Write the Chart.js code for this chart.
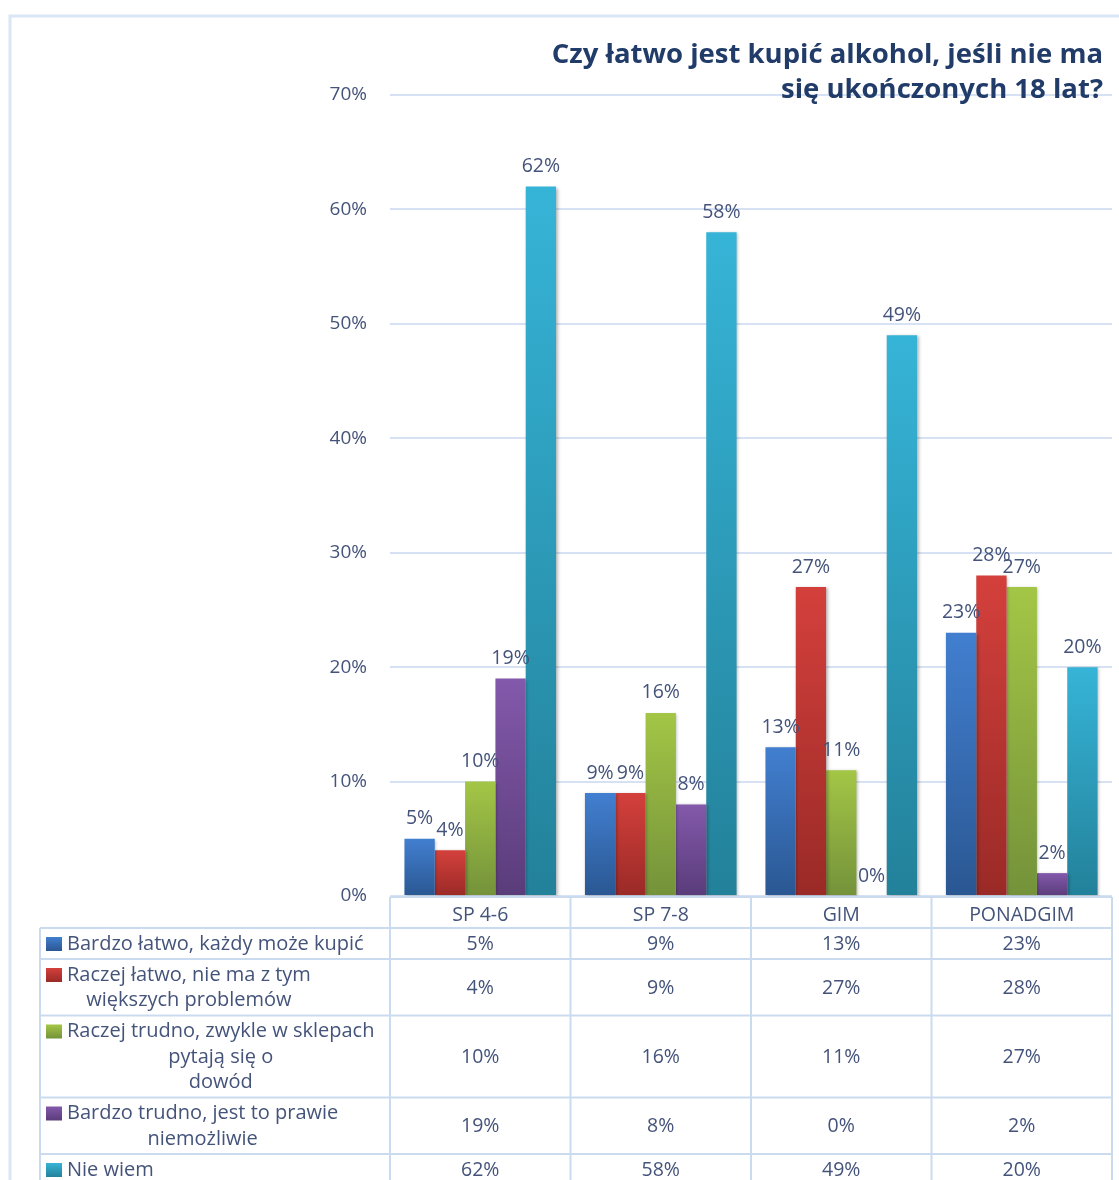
<!DOCTYPE html>
<html>
<head>
<meta charset="utf-8">
<script src="https://cdn.jsdelivr.net/npm/chart.js@4.4.0/dist/chart.umd.min.js"></script>
<style>
    html, body { margin: 0; padding: 0; background: #fff; }
    #wrap { width: 1119px; height: 1180px; }
</style>
</head>
<body>
<div id="wrap"><canvas id="chartBars" width="1119" height="1180"></canvas></div>
<script>
'use strict'

var categories = ['SP 4-6', 'SP 7-8', 'GIM', 'PONADGIM'];
var seriesNames = [
    'Bardzo łatwo, każdy może kupić',
    'Raczej łatwo, nie ma z tym większych problemów',
    'Raczej trudno, zwykle w sklepach pytają się o dowód',
    'Bardzo trudno, jest to prawie niemożliwie',
    'Nie wiem'
];
// how the legend text wraps inside the table
var seriesLines = [
    ['Bardzo łatwo, każdy może kupić'],
    ['Raczej łatwo, nie ma z tym', 'większych problemów'],
    ['Raczej trudno, zwykle w sklepach', 'pytają się o', 'dowód'],
    ['Bardzo trudno, jest to prawie', 'niemożliwie'],
    ['Nie wiem']
];
var bardzoLatwo = [5, 9, 13, 23];
var raczejLatwo = [4, 9, 27, 28];
var raczejTrudno = [10, 16, 11, 27];
var bardzoTrudno = [19, 8, 0, 2];
var nieWiem = [62, 58, 49, 20];
var yMin = 0, yMax = 70, yStep = 10;
var titleLines = ['Czy łatwo jest kupić alkohol, jeśli nie ma', 'się ukończonych 18 lat?'];

var seriesValues = [bardzoLatwo, raczejLatwo, raczejTrudno, bardzoTrudno, nieWiem];
var colorTop = ['#427fd0', '#d4403c', '#a3c646', '#8359ab', '#36b4d7'];
var colorBottom = ['#2a5792', '#9a2a27', '#74923a', '#5a3c7a', '#23819a'];

var FONT = '"Open Sans", "DejaVu Sans", sans-serif';
var LINE = '#cbdbef';
var TEXT = '#44537a';

function barGradient(i) {
    return function(context) {
        var chart = context.chart;
        var y = chart.scales.y;
        if (!y || context.raw === undefined) return colorTop[i];
        var top = y.getPixelForValue(context.raw);
        var base = y.getPixelForValue(0);
        if (!isFinite(top) || !isFinite(base)) return colorTop[i];
        if (base - top < 1) top = base - 1;
        var g = chart.ctx.createLinearGradient(0, top, 0, base);
        g.addColorStop(0, colorTop[i]);
        g.addColorStop(1, colorBottom[i]);
        return g;
    };
}

var datasets = seriesValues.map(function(vals, i) {
    return {
        label: seriesNames[i],
        data: vals,
        backgroundColor: barGradient(i),
        borderWidth: 0,
        barPercentage: 1,
        categoryPercentage: 0.84
    };
});

function rowHeight(lines) {
    return 5.5 + 25.5 * lines.length;
}

// frame, title, value labels and the data table under the chart
var decorPlugin = {
    id: 'decor',
    beforeDraw: function(chart) {
        var ctx = chart.ctx;
        ctx.save();
        ctx.strokeStyle = '#dbe6f5';
        ctx.lineWidth = 3;
        ctx.beginPath();
        ctx.moveTo(10, 1180);
        ctx.lineTo(10, 16);
        ctx.lineTo(1119, 16);
        ctx.stroke();
        ctx.restore();
    },
    beforeDatasetsDraw: function(chart) {
        var ctx = chart.ctx;
        ctx.save();
        ctx.shadowColor = 'rgba(0,0,0,0.28)';
        ctx.shadowBlur = 3;
        ctx.shadowOffsetX = 1.5;
        ctx.shadowOffsetY = 1;
    },
    afterDatasetsDraw: function(chart) {
        var ctx = chart.ctx;
        ctx.restore();
        ctx.save();
        ctx.font = '19.5px ' + FONT;
        ctx.fillStyle = TEXT;
        ctx.textAlign = 'center';
        ctx.textBaseline = 'middle';
        chart.data.datasets.forEach(function(ds, i) {
            var meta = chart.getDatasetMeta(i);
            meta.data.forEach(function(bar, j) {
                ctx.fillText(ds.data[j] + '%', bar.x, bar.y - 20);
            });
        });
        ctx.restore();
    },
    afterDraw: function(chart) {
        var ctx = chart.ctx;
        var area = chart.chartArea;
        var x = chart.scales.x;
        ctx.save();

        // title
        ctx.font = 'bold 27.5px ' + FONT;
        ctx.fillStyle = '#213c69';
        ctx.textAlign = 'right';
        ctx.textBaseline = 'middle';
        ctx.fillText(titleLines[0], 1103, 55);
        ctx.fillText(titleLines[1], 1103, 90);

        // table
        var colW = (area.right - area.left) / categories.length;
        var tableLeft = 40;
        var headTop = area.bottom + 1;
        var rowsTop = 928;
        var rowTops = [];
        var yy = rowsTop;
        seriesLines.forEach(function(lines) {
            rowTops.push(yy);
            yy += rowHeight(lines);
        });

        ctx.strokeStyle = LINE;
        ctx.lineWidth = 2;
        ctx.beginPath();
        ctx.moveTo(area.left, headTop);
        ctx.lineTo(area.right, headTop);
        rowTops.forEach(function(t) {
            ctx.moveTo(tableLeft, t);
            ctx.lineTo(area.right, t);
        });
        ctx.moveTo(tableLeft, rowsTop);
        ctx.lineTo(tableLeft, 1180);
        for (var c = 0; c <= categories.length; c++) {
            var cx = area.left + c * colW;
            ctx.moveTo(cx, headTop);
            ctx.lineTo(cx, 1180);
        }
        ctx.stroke();

        ctx.textBaseline = 'middle';
        seriesLines.forEach(function(lines, i) {
            var top = rowTops[i];
            var h = rowHeight(lines);
            // legend key
            var g = ctx.createLinearGradient(0, top + 9, 0, top + 23);
            g.addColorStop(0, colorTop[i]);
            g.addColorStop(1, colorBottom[i]);
            ctx.fillStyle = g;
            ctx.fillRect(46, top + 9, 16, 14);

            ctx.font = '20px ' + FONT;
            ctx.fillStyle = TEXT;
            var w = 0;
            lines.forEach(function(l) { w = Math.max(w, ctx.measureText(l).width); });
            ctx.textAlign = 'center';
            lines.forEach(function(l, k) {
                ctx.fillText(l, 67 + w / 2, top + 16 + 25.5 * k);
            });

            ctx.font = '19.5px ' + FONT;
            seriesValues[i].forEach(function(v, j) {
                ctx.fillText(v + '%', x.getPixelForValue(j), top + h / 2 + 1);
            });
        });
        ctx.restore();
    }
};

var ctxBars = document.getElementById('chartBars');
var barChart = new Chart(ctxBars, {
    type: 'bar',
    data: {
        labels: categories,
        datasets: datasets
    },
    options: {
        responsive: false,
        animation: false,
        layout: {
            padding: { top: 95, right: 7, bottom: 0, left: 0 }
        },
        plugins: {
            legend: { display: false },
            tooltip: { enabled: false },
            title: { display: false }
        },
        scales: {
            x: {
                grid: { display: false },
                border: { display: false },
                ticks: {
                    color: TEXT,
                    font: { family: FONT, size: 19.5 },
                    padding: 0
                },
                afterFit: function(scale) { scale.height = 284; }
            },
            y: {
                min: yMin,
                max: yMax,
                grid: { color: '#d6e2f3', lineWidth: 2, drawTicks: false },
                border: { display: false },
                ticks: {
                    stepSize: yStep,
                    color: TEXT,
                    padding: 23,
                    font: { family: FONT, size: 19 },
                    callback: function(v) { return v + '%'; }
                },
                afterFit: function(scale) { scale.width = 390; }
            }
        }
    },
    plugins: [decorPlugin]
});
</script>
</body>
</html>
